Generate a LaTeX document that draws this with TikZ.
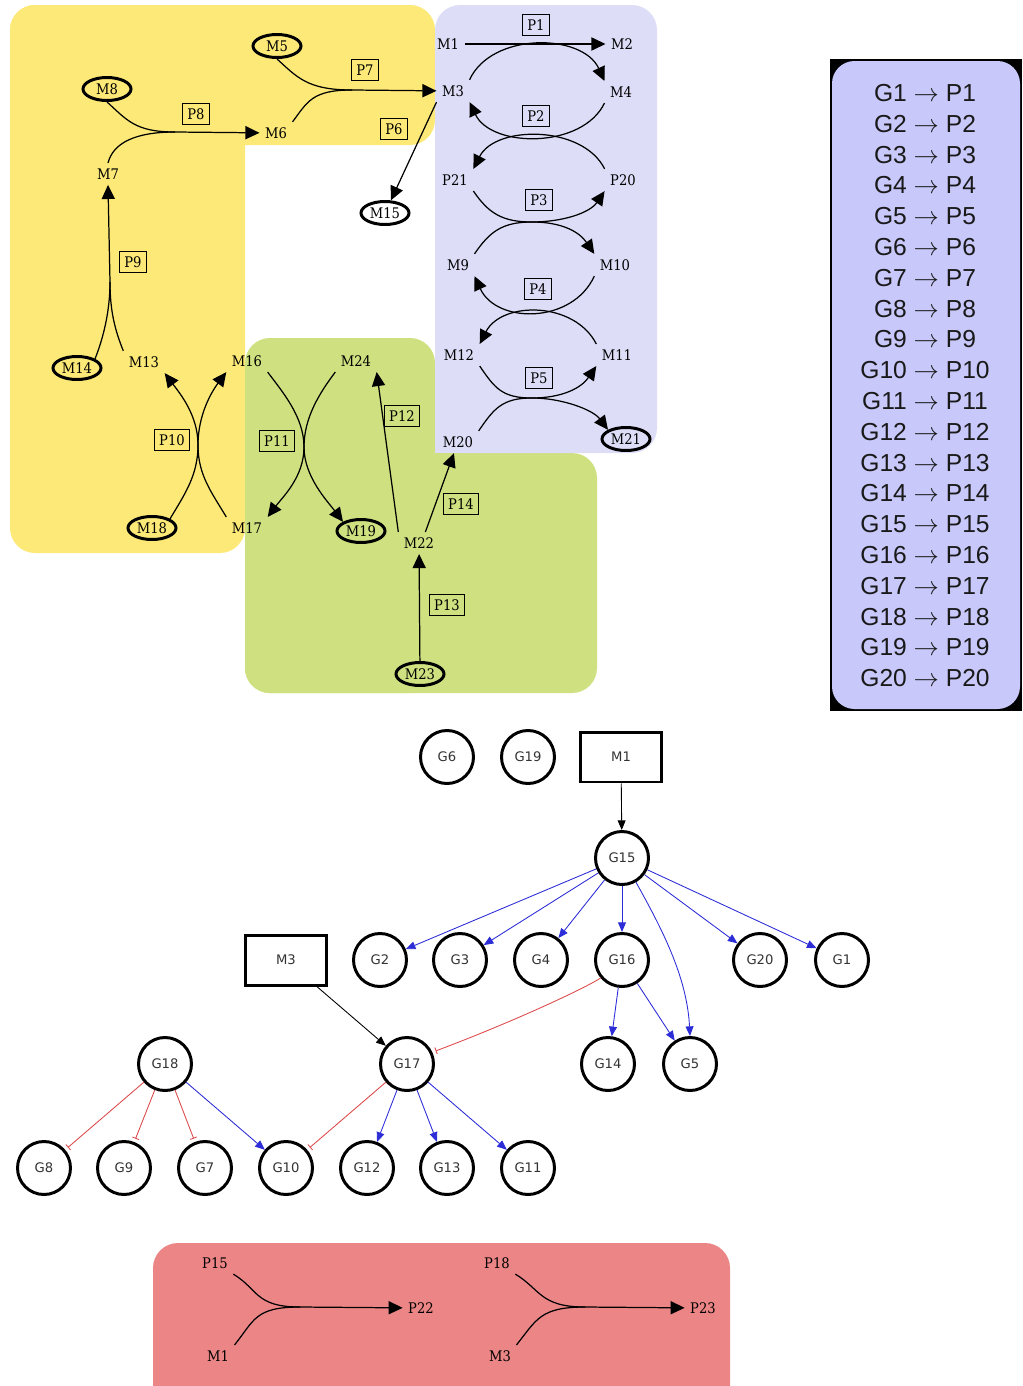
\documentclass[tikz,border=0pt]{standalone}
\usepackage{fontspec}
\usetikzlibrary{arrows.meta,shapes.geometric}
\newfontfamily\mfont[FakeStretch=0.9]{DejaVu Serif}
\newfontfamily\gfont{DejaVu Sans}
\newfontfamily\lfont{Liberation Sans}
\newcommand{\letra}{\mfont\fontsize{8.3}{10}\selectfont}
\definecolor{amarillo}{RGB}{252,233,120}
\definecolor{lavanda}{RGB}{221,221,248}
\definecolor{verde}{RGB}{206,224,128}
\definecolor{rojo}{RGB}{236,134,134}
\definecolor{leyfondo}{RGB}{200,200,250}
\definecolor{azul}{RGB}{45,45,215}
\definecolor{rojolinea}{RGB}{220,75,75}
\tikzset{
  etiq/.style={font=\letra, inner sep=3pt},
  especie/.style={ellipse, draw, line width=1.7pt, minimum width=0.96cm, minimum height=0.46cm, inner sep=0pt, font=\letra},
  proc/.style={draw, line width=0.6pt, inner xsep=2.7pt, inner ysep=3pt, font=\letra},
  linea/.style={line width=0.7pt},
  flecha/.style={line width=0.7pt, -{Triangle[length=8pt,width=7.5pt]}},
  gen/.style={circle, draw, line width=1.7pt, minimum size=1.06cm, inner sep=0pt, text=black!80, font={\gfont\fontsize{7.5}{9}\selectfont}},
  metab/.style={draw, line width=1.7pt, minimum width=1.62cm, minimum height=1cm, text=black!80, font={\gfont\fontsize{7.5}{9}\selectfont}},
  activa/.style={azul, line width=0.5pt, -{Triangle[length=5.5pt,width=4.5pt]}},
  reprime/.style={rojolinea, line width=0.5pt, -{Bar[width=4pt]}, shorten >=2pt},
  causa/.style={black, line width=0.5pt, -{Triangle[length=5.5pt,width=4.5pt]}},
  leyenda/.style={text=black!90, font={\lfont\fontsize{14}{16}\selectfont}},
}
\begin{document}
\begin{tikzpicture}[x=0.02cm, y=-0.02cm]
  \useasboundingbox (0,0) rectangle (1022,1386);

  % Fondos de los compartimentos
  \fill[amarillo, rounded corners=0.5cm] (10,5) rectangle (435,145);
  \fill[amarillo, rounded corners=0.5cm] (10,5) rectangle (245,553);
  \fill[verde, rounded corners=0.5cm] (245,338) rectangle (435,693);
  \fill[verde, rounded corners=0.5cm] (245,453) rectangle (597,693);
  \fill[lavanda, rounded corners=0.5cm] (435,5) rectangle (657,453);
  \fill[lavanda] (435,400) rectangle (470,453);

  % Especies y procesos
  \node[especie] (m5) at (277,46) {M5};
  \node[especie] (m8) at (107,89) {M8};
  \node[proc] (p7) at (365,70) {P7};
  \node[proc] (p8) at (196,114) {P8};
  \node[etiq] (m6) at (276,133) {M6};
  \node[proc] (p6) at (394,129) {P6};
  \node[etiq] (m3) at (453,91) {M3};
  \node[etiq] (m1) at (448,44) {M1};
  \node[etiq] (m2) at (622,44) {M2};
  \node[proc] (p1) at (536,25) {P1};
  \node[etiq] (m4) at (621,92) {M4};
  \node[proc] (p2) at (536,116) {P2};
  \node[etiq] (p21) at (455,180) {P21};
  \node[etiq] (p20) at (623,180) {P20};
  \node[proc] (p3) at (539,200) {P3};
  \node[etiq] (m9) at (458,265) {M9};
  \node[etiq] (m10) at (615,265) {M10};
  \node[proc] (p4) at (538,289) {P4};
  \node[etiq] (m12) at (459,355) {M12};
  \node[etiq] (m11) at (617,355) {M11};
  \node[proc] (p5) at (539,378) {P5};
  \node[etiq] (m20) at (458,442) {M20};
  \node[especie] (m21) at (626,439) {M21};
  \node[especie] (m15) at (385,213) {M15};
  \node[etiq] (m7) at (108,174) {M7};
  \node[proc] (p9) at (133,262) {P9};
  \node[especie] (m14) at (77,368) {M14};
  \node[etiq] (m13) at (144,362) {M13};
  \node[etiq] (m16) at (247,361) {M16};
  \node[etiq] (m24) at (356,361) {M24};
  \node[proc] (p10) at (172,440) {P10};
  \node[proc] (p11) at (277,441) {P11};
  \node[proc] (p12) at (402,416) {P12};
  \node[especie] (m18) at (152,528) {M18};
  \node[etiq] (m17) at (247,528) {M17};
  \node[especie] (m19) at (361,531) {M19};
  \node[etiq] (m22) at (419,543) {M22};
  \node[proc] (p14) at (461,504) {P14};
  \node[proc] (p13) at (447,605) {P13};
  \node[especie] (m23) at (420,674) {M23};

  % Puntos de union y de contacto
  \coordinate (k7) at (352,90);
  \coordinate (k8) at (175,132);
  \coordinate (k9) at (110,282);
  \coordinate (a3) at (532,222);
  \coordinate (a5) at (532,398);
  \coordinate (a10) at (198,445);
  \coordinate (a11) at (304,447);

  % P7 y P8
  \draw[linea] (m5.south) .. controls +(20,18) and +(-45,0) .. (k7);
  \draw[linea] (m6.north east) .. controls +(15,-20) and +(-40,0) .. (k7);
  \draw[flecha] (k7) -- (m3);
  \draw[linea] (m8.south) .. controls +(20,18) and +(-40,0) .. (k8);
  \draw[linea] (m7.north) .. controls +(5,-20) and +(-40,0) .. (k8);
  \draw[flecha] (k8) -- (m6);

  % P6
  \draw[flecha] (m3.south west) -- (m15);

  % P1 a P5
  \draw[flecha] (m1) -- (m2);
  \draw[flecha] (m3.north east) .. controls +(22,-48) and +(-22,-48) .. (m4.north west);
  \draw[flecha] (m4.south west) .. controls +(-22,46) and +(22,46) .. (m3.south east);
  \draw[flecha] (p20.north west) .. controls +(-22,-44) and +(22,-44) .. (p21.north east);
  \draw[flecha] (p21.south east) .. controls +(15,22) and +(-30,0) .. (a3) .. controls +(30,0) and +(-15,-22) .. (m10.north west);
  \draw[flecha] (m9.north east) .. controls +(15,-22) and +(-30,0) .. (a3) .. controls +(30,0) and +(-15,22) .. (p20.south west);
  \draw[flecha] (m10.south west) .. controls +(-22,48) and +(22,48) .. (m9.south east);
  \draw[flecha] (m11.north west) .. controls +(-22,-43) and +(22,-43) .. (m12.north east);
  \draw[flecha] (m12.south east) .. controls +(15,22) and +(-30,0) .. (a5) .. controls +(30,0) and +(-15,-20) .. (m21.north west);
  \draw[flecha] (m20.north east) .. controls +(15,-22) and +(-30,0) .. (a5) .. controls +(30,0) and +(-15,22) .. (m11.south west);

  % P9
  \draw[linea] (m14.north east) .. controls +(8,-20) and +(0,30) .. (k9);
  \draw[linea] (m13.north west) .. controls +(-8,-20) and +(0,30) .. (k9);
  \draw[flecha] (k9) -- (m7.south);

  % P10 y P11
  \draw[flecha] (m18.north east) .. controls +(15,-25) and +(0,30) .. (a10) .. controls +(0,-30) and +(-15,20) .. (m16.south west);
  \draw[flecha] (m17.north west) .. controls +(-15,-25) and +(0,30) .. (a10) .. controls +(0,-30) and +(15,20) .. (m13.south east);
  \draw[flecha] (m16.south east) .. controls +(15,20) and +(0,-30) .. (a11) .. controls +(0,30) and +(-15,-20) .. (m19.north west);
  \draw[flecha] (m24.south west) .. controls +(-15,20) and +(0,-30) .. (a11) .. controls +(0,30) and +(15,-20) .. (m17.north east);

  % P12, P13 y P14
  \draw[flecha] (m22.north west) -- (m24.south east);
  \draw[flecha] (m22.60) -- (m20.250);
  \draw[flecha] (m23) -- (m22);

  % Leyenda
  \fill[black] (830,59) rectangle (1022,711);
  \fill[leyfondo, rounded corners=0.45cm] (832,61) rectangle (1020,709);
  \foreach \i in {1,...,20}
    \node[leyenda] (l\i) at (925,{93+30.8*(\i-1)}) {G\i{} $\rightarrow$ P\i};

  % Red de genes
  \node[gen] (g6) at (447,757) {G6};
  \node[gen] (g19) at (528,757) {G19};
  \node[metab] (m1g) at (621,757) {M1};
  \node[gen] (g15) at (622,858) {G15};
  \node[metab] (m3g) at (286,960) {M3};
  \node[gen] (g2) at (380,960) {G2};
  \node[gen] (g3) at (460,960) {G3};
  \node[gen] (g4) at (541,960) {G4};
  \node[gen] (g16) at (622,960) {G16};
  \node[gen] (g20) at (760,960) {G20};
  \node[gen] (g1) at (842,960) {G1};
  \node[gen] (g18) at (165,1064) {G18};
  \node[gen] (g17) at (407,1064) {G17};
  \node[gen] (g14) at (608,1064) {G14};
  \node[gen] (g5) at (690,1064) {G5};
  \node[gen] (g8) at (44,1168) {G8};
  \node[gen] (g9) at (124,1168) {G9};
  \node[gen] (g7) at (205,1168) {G7};
  \node[gen] (g10) at (286,1168) {G10};
  \node[gen] (g12) at (367,1168) {G12};
  \node[gen] (g13) at (447,1168) {G13};
  \node[gen] (g11) at (528,1168) {G11};

  \draw[causa] (m1g) -- (g15);
  \draw[causa] (m3g) -- (g17);
  \draw[activa] (g15) -- (g2);
  \draw[activa] (g15) -- (g3);
  \draw[activa] (g15) -- (g4);
  \draw[activa] (g15) -- (g16);
  \draw[activa] (g15) -- (g20);
  \draw[activa] (g15) -- (g1);
  \draw[activa] (g15.300) .. controls +(25,45) and +(-3,-60) .. (g5.north);
  \draw[activa] (g16) -- (g14);
  \draw[activa] (g16) -- (g5);
  \draw[reprime] (g16.220) .. controls +(-15,10) and +(80,-30) .. (g17.25);
  \draw[reprime] (g17) -- (g10);
  \draw[activa] (g17) -- (g12);
  \draw[activa] (g17) -- (g13);
  \draw[activa] (g17) -- (g11);
  \draw[reprime] (g18) -- (g8);
  \draw[reprime] (g18) -- (g9);
  \draw[reprime] (g18) -- (g7);
  \draw[activa] (g18) -- (g10);

  % Reacciones de abajo
  \begin{scope}
    \clip (0,0) rectangle (1022,1386);
    \fill[rojo, rounded corners=0.5cm] (153,1243) rectangle (730,1430);
  \end{scope}
  \node[etiq] (p15) at (215,1263) {P15};
  \node[etiq] (m1b) at (218,1356) {M1};
  \node[etiq] (p22) at (421,1308) {P22};
  \node[etiq] (p18) at (497,1263) {P18};
  \node[etiq] (m3b) at (500,1356) {M3};
  \node[etiq] (p23) at (703,1308) {P23};
  \coordinate (k22) at (300,1307);
  \coordinate (k23) at (585,1307);
  \draw[linea] (p15.south east) .. controls +(25,15) and +(-45,0) .. (k22);
  \draw[linea] (m1b.north east) .. controls +(20,-25) and +(-45,0) .. (k22);
  \draw[flecha] (k22) -- (p22);
  \draw[linea] (p18.south east) .. controls +(25,15) and +(-45,0) .. (k23);
  \draw[linea] (m3b.north east) .. controls +(20,-25) and +(-45,0) .. (k23);
  \draw[flecha] (k23) -- (p23);
\end{tikzpicture}
\end{document}
